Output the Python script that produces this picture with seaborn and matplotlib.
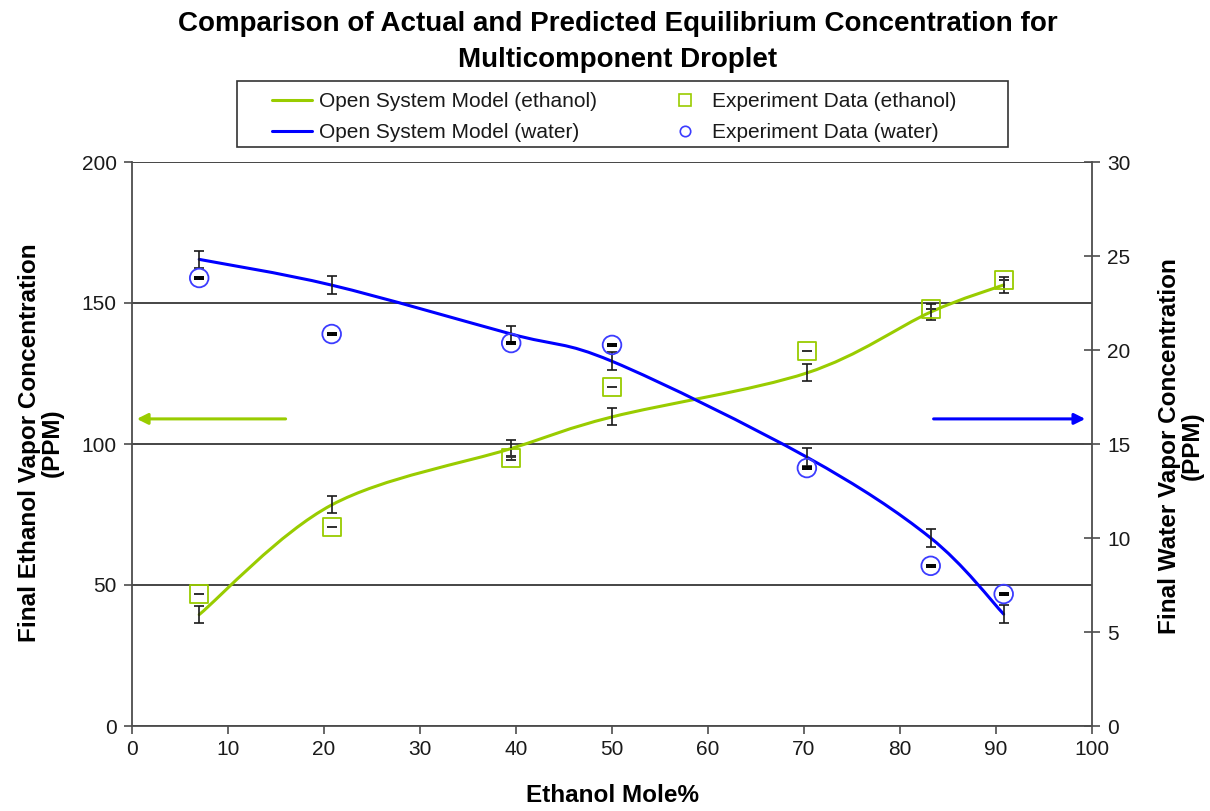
import numpy as np
import pandas as pd
import matplotlib
matplotlib.use("Agg")
import matplotlib.pyplot as plt
import seaborn as sns
from matplotlib.path import Path
from matplotlib.patches import PathPatch, Rectangle
from matplotlib.lines import Line2D

# Ethanol mole fraction of the droplet (%)
mole_pct = [7.0, 20.8, 39.5, 50.0, 70.3, 83.2, 90.8]

# Open-system model predictions
ethanol_model = [39.5, 78.4, 98.4, 109.6, 125.2, 146.8, 156.4]   # PPM, left axis
water_model = [24.82, 23.45, 20.85, 19.4, 14.3, 10.0, 5.95]      # PPM, right axis
ethanol_model_err = [3.0, 3.0, 3.0, 3.0, 3.0, 3.0, 2.7]
water_model_err = [0.45, 0.47, 0.45, 0.47, 0.48, 0.47, 0.47]

# Measured equilibrium concentrations
ethanol_exp = [46.8, 70.6, 95.0, 120.3, 133.0, 147.9, 158.3]     # PPM, left axis
water_exp = [23.83, 20.85, 20.37, 20.27, 13.72, 8.52, 7.02]      # PPM, right axis
ethanol_exp_err = [0.0, 0.0, 0.6, 0.0, 0.0, 0.0, 0.0]
water_exp_err = [0.04, 0.04, 0.04, 0.04, 0.04, 0.04, 0.04]

x_ticks = [0, 10, 20, 30, 40, 50, 60, 70, 80, 90, 100]
left_ticks = [0, 50, 100, 150, 200]
right_ticks = [0, 5, 10, 15, 20, 25, 30]

series_labels = ["Open System Model (ethanol)", "Open System Model (water)",
                 "Experiment Data (ethanol)", "Experiment Data (water)"]

GREEN = "#99CC00"
BLUE = "#0000FF"
CIRCLE_BLUE = "#3C3CFF"
AXIS_GREY = "#4D4D4D"

sns.set_theme(style="white")
plt.rcParams["font.family"] = ["Liberation Sans", "DejaVu Sans"]


def smooth_path(xs, ys, k=1.0 / 6.0):
    """Spreadsheet-style smoothed line: cubic Bezier through every point."""
    p = np.column_stack([xs, ys]).astype(float)
    n = len(p)
    verts = [p[0]]
    codes = [Path.MOVETO]
    for i in range(n - 1):
        prev_pt = p[i - 1] if i > 0 else p[i]
        next_pt = p[i + 2] if i + 2 < n else p[i + 1]
        c1 = p[i] + (p[i + 1] - prev_pt) * k
        c2 = p[i + 1] - (next_pt - p[i]) * k
        verts += [c1, c2, p[i + 1]]
        codes += [Path.CURVE4] * 3
    return Path(verts, codes)


W, H = 1210, 811
fig = plt.figure(figsize=(W / 100, H / 100), dpi=100)
ax = fig.add_axes([132 / W, 1 - 726 / H, (1092 - 132) / W, (726 - 162) / H])
ax2 = ax.twinx()

# Model curves
ax.add_patch(PathPatch(smooth_path(mole_pct, ethanol_model), fill=False,
                       edgecolor=GREEN, lw=2.2, zorder=3, capstyle="round"))
ax2.add_patch(PathPatch(smooth_path(mole_pct, water_model), fill=False,
                        edgecolor=BLUE, lw=2.2, zorder=3, capstyle="round"))

# Model error bars
ax.errorbar(mole_pct, ethanol_model, yerr=ethanol_model_err, fmt="none",
            ecolor="#1a1a1a", elinewidth=1.2, capsize=3.8, capthick=1.2, zorder=4)
ax2.errorbar(mole_pct, water_model, yerr=water_model_err, fmt="none",
             ecolor="#1a1a1a", elinewidth=1.2, capsize=3.8, capthick=1.2, zorder=4)

# Experimental points
df_eth = pd.DataFrame({"x": mole_pct, "y": ethanol_exp})
df_wat = pd.DataFrame({"x": mole_pct, "y": water_exp})
sns.scatterplot(data=df_eth, x="x", y="y", ax=ax, marker="s", s=170,
                facecolor="none", edgecolor=GREEN, linewidth=1.3, zorder=5,
                legend=False)
sns.scatterplot(data=df_wat, x="x", y="y", ax=ax2, marker="o", s=180,
                facecolor="none", edgecolor=CIRCLE_BLUE, linewidth=1.3, zorder=5,
                legend=False)
ax.errorbar(mole_pct, ethanol_exp, yerr=ethanol_exp_err, fmt="none",
            ecolor="#333333", elinewidth=1.0, capsize=3.5, capthick=1.4, zorder=6)
ax2.errorbar(mole_pct, water_exp, yerr=water_exp_err, fmt="none",
             ecolor="#000000", elinewidth=1.0, capsize=3.5, capthick=1.4, zorder=6)

# Axes limits and ticks
ax.set_xlim(0, 100)
ax.set_ylim(0, 200)
ax2.set_ylim(0, 30)
ax.set_xticks(x_ticks)
ax.set_yticks(left_ticks)
ax2.set_yticks(right_ticks)
ax.set_xlabel("")
ax.set_ylabel("")
ax2.set_ylabel("")

ax.yaxis.grid(True, color="#262626", lw=1.2)
ax.xaxis.grid(False)
ax2.grid(False)
for gl in ax.get_ygridlines():
    y = gl.get_ydata()[0]
    if y in (0, 200):
        gl.set_visible(False)

for a in (ax, ax2):
    a.spines["top"].set_visible(False)
    for side in ("left", "bottom", "right"):
        a.spines[side].set_color(AXIS_GREY)
        a.spines[side].set_linewidth(1.3)
ax.spines["right"].set_visible(False)
ax2.spines["left"].set_visible(False)
ax2.spines["bottom"].set_visible(False)

tick_kw = dict(labelsize=15, labelcolor="#1a1a1a", color=AXIS_GREY, width=1.2)
ax.tick_params(axis="x", direction="out", length=6, pad=4, bottom=True, **tick_kw)
ax.tick_params(axis="y", direction="out", length=6, pad=5, left=True, **tick_kw)
ax2.tick_params(axis="y", direction="inout", length=12, pad=5, right=True, **tick_kw)

# Axis titles
label_kw = dict(fontsize=17.5, fontweight="bold", color="black")
fig.text(613 / W, 1 - 796 / H, "Ethanol Mole%", ha="center", va="center", **label_kw)
fig.text(41 / W, 1 - 443 / H, "Final Ethanol Vapor Concentration\n(PPM)",
         rotation=90, ha="center", va="center", multialignment="center",
         linespacing=1.0, **label_kw)
fig.text(1181 / W, 1 - 446 / H, "Final Water Vapor Concentration\n(PPM)",
         rotation=90, ha="center", va="center", multialignment="center",
         linespacing=1.0, **label_kw)

# Chart title
fig.text(618 / W, 1 - 42 / H,
         "Comparison of Actual and Predicted Equilibrium Concentration for\nMulticomponent Droplet",
         ha="center", va="center", fontsize=20, fontweight="bold",
         linespacing=1.5, color="black")

# Arrows pointing to each series' axis
arrow_y = 108.9
ax.annotate("", xy=(0.5, arrow_y), xytext=(16.0, arrow_y),
            arrowprops=dict(arrowstyle="-|>", color=GREEN, lw=2.2,
                            mutation_scale=16, shrinkA=0, shrinkB=0))
ax.annotate("", xy=(99.3, arrow_y), xytext=(83.5, arrow_y),
            arrowprops=dict(arrowstyle="-|>", color=BLUE, lw=2.2,
                            mutation_scale=16, shrinkA=0, shrinkB=0))

# Legend (entries laid out in two columns, boxed by a plain frame)
handles = [
    Line2D([], [], color=GREEN, lw=2.2),
    Line2D([], [], color=BLUE, lw=2.2),
    Line2D([], [], ls="none", marker="s", markersize=9, mfc="none",
           mec=GREEN, mew=1.2),
    Line2D([], [], ls="none", marker="o", markersize=7.5, mfc="none",
           mec=CIRCLE_BLUE, mew=1.2),
]
leg = fig.legend(handles, series_labels, ncol=2, loc="upper left",
                 bbox_to_anchor=(272 / W, 1 - 92 / H),
                 frameon=False, fontsize=15,
                 handlelength=1.9, handletextpad=0.35, borderpad=0.0,
                 labelspacing=0.58, columnspacing=3.3, borderaxespad=0)
for t in leg.get_texts():
    t.set_color("#1a1a1a")
fig.patches.append(Rectangle((237 / W, 1 - 147 / H), (1008 - 237) / W, 66 / H,
                             transform=fig.transFigure, fill=False,
                             edgecolor="#333333", lw=1.2, zorder=10))

fig.savefig("out.png", dpi=100, facecolor="white")
